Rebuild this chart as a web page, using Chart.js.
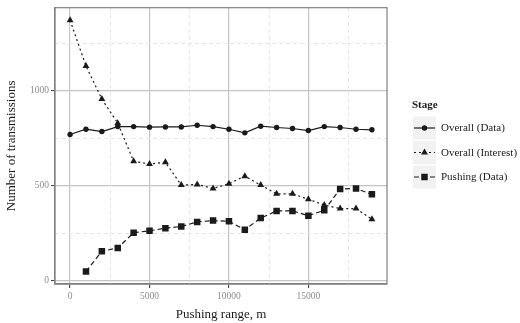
<!DOCTYPE html>
<html>
<head>
<meta charset="utf-8">
<script src="https://cdn.jsdelivr.net/npm/chart.js@4/dist/chart.umd.min.js"></script>
<style>
html,body{margin:0;padding:0;background:#fff;}
#wrap{position:relative;width:520px;height:323px;}
</style>
</head>
<body>
<div id="wrap"><canvas id="c" width="520" height="323"></canvas></div>
<script>
const xValues = [0,1000,2000,3000,4000,5000,6000,7000,8000,9000,10000,11000,12000,13000,14000,15000,16000,17000,18000,19000];
const overallData = [768,796,784,810,810,807,808,808,817,810,796,777,812,805,800,789,810,805,796,793];
const overallInterest = [1370,1129,955,828,627,613,622,502,505,484,509,549,502,456,456,427,397,378,378,322];
const pushingX = [1000,2000,3000,4000,5000,6000,7000,8000,9000,10000,11000,12000,13000,14000,15000,16000,17000,18000,19000];
const pushingData = [47,153,171,251,261,275,284,308,315,311,267,328,366,366,341,369,481,484,453];
const seriesNames = ['Overall (Data)','Overall (Interest)','Pushing (Data)'];
const xMajorTicks = [0,5000,10000,15000];
const yMajorTicks = [0,500,1000];
const xMinorTicks = [2500,7500,12500,17500];
const yMinorTicks = [250,750,1250];
const legendTitle = 'Stage';

const FONT = "'Liberation Serif','DejaVu Serif',serif";
const INK = '#1a1a1a';

const styles = [
  {dash: [], point: 'circle', radius: 2.7},
  {dash: [2,3], point: 'triangle', radius: 4},
  {dash: [5,3], point: 'rect', radius: 4.6}
];

function pts(xs, ys){ return xs.map((x,i)=>({x:x, y:ys[i]})); }

const minorGrid = {
  id: 'minorGrid',
  beforeDatasetsDraw(chart){
    const {ctx, chartArea:a, scales:{x, y}} = chart;
    ctx.save();
    ctx.strokeStyle = '#e6e6e6';
    ctx.lineWidth = 1;
    ctx.setLineDash([4,3]);
    xMinorTicks.forEach(v=>{
      const px = Math.round(x.getPixelForValue(v))+0.5;
      ctx.beginPath(); ctx.moveTo(px,a.top); ctx.lineTo(px,a.bottom); ctx.stroke();
    });
    yMinorTicks.forEach(v=>{
      const py = Math.round(y.getPixelForValue(v))+0.5;
      ctx.beginPath(); ctx.moveTo(a.left,py); ctx.lineTo(a.right,py); ctx.stroke();
    });
    ctx.restore();
  },
  afterDatasetsDraw(chart){
    const {ctx, chartArea:a} = chart;
    ctx.save();
    ctx.strokeStyle = '#808080';
    ctx.lineWidth = 1.2;
    ctx.strokeRect(a.left, a.top, a.right - a.left, a.bottom - a.top);
    ctx.restore();
  }
};

const customLegend = {
  id: 'customLegend',
  afterDraw(chart){
    const ctx = chart.ctx;
    ctx.save();
    ctx.fillStyle = INK;
    ctx.font = "bold 11px " + FONT;
    ctx.textBaseline = 'middle';
    ctx.textAlign = 'left';
    ctx.fillText(legendTitle, 412, 105);
    const rows = [128, 152.5, 177];
    seriesNames.forEach((name,i)=>{
      const cy = rows[i];
      ctx.fillStyle = '#f2f2f2';
      ctx.fillRect(413, cy-11.5, 23, 23);
      ctx.strokeStyle = INK;
      ctx.lineWidth = 1.2;
      ctx.setLineDash(styles[i].dash);
      ctx.beginPath(); ctx.moveTo(414, cy); ctx.lineTo(435, cy); ctx.stroke();
      ctx.setLineDash([]);
      ctx.fillStyle = INK;
      Chart.helpers.drawPoint(ctx, {pointStyle: styles[i].point, radius: styles[i].radius, borderWidth: 0}, 424.5, cy);
      ctx.fillStyle = INK;
      ctx.font = "11px " + FONT;
      ctx.fillText(name, 441, cy+0.5);
    });
    ctx.restore();
  }
};

const datasets = [
  {label: seriesNames[0], data: pts(xValues, overallData)},
  {label: seriesNames[1], data: pts(xValues, overallInterest)},
  {label: seriesNames[2], data: pts(pushingX, pushingData)}
].map((d,i)=>Object.assign(d, {
  borderColor: INK, backgroundColor: INK, borderWidth: 1.2,
  borderDash: styles[i].dash, pointStyle: styles[i].point,
  pointRadius: styles[i].radius, pointBorderWidth: 0,
  pointBackgroundColor: INK, tension: 0, fill: false
}));

new Chart(document.getElementById('c'), {
  type: 'line',
  data: {datasets},
  plugins: [minorGrid, customLegend],
  options: {
    responsive: false,
    animation: false,
    devicePixelRatio: 1,
    layout: {padding: {top: 6, right: 133, left: 0, bottom: 0}},
    plugins: {legend: {display: false}, tooltip: {enabled: false}},
    scales: {
      x: {
        type: 'linear', min: -950, max: 19950,
        afterBuildTicks(s){ s.ticks = xMajorTicks.map(v=>({value:v})); },
        afterFit(s){ s.height = 39; },
        grid: {color: '#c4c4c4', lineWidth: 1.2, tickLength: 4, tickColor: '#333', tickWidth: 1},
        border: {color: '#808080', width: 1.5},
        ticks: {color: '#8c8c8c', font: {family: FONT, size: 9.5}, padding: 3, maxRotation: 0,
          callback: v => String(v)},
        title: {display: true, text: 'Pushing range, m', color: INK,
          font: {family: FONT, size: 13}, padding: {top: 0, bottom: 1}}
      },
      y: {
        type: 'linear', min: -19, max: 1436,
        afterBuildTicks(s){ s.ticks = yMajorTicks.map(v=>({value:v})); },
        afterFit(s){ s.width = 55; },
        grid: {color: '#c4c4c4', lineWidth: 1.2, tickLength: 4, tickColor: '#333', tickWidth: 1},
        border: {color: '#808080', width: 1.2},
        ticks: {color: '#8c8c8c', font: {family: FONT, size: 9.5}, padding: 2,
          callback: v => String(v)},
        title: {display: true, text: 'Number of transmissions', color: INK,
          font: {family: FONT, size: 13}, padding: {top: 4, bottom: 0}}
      }
    }
  }
});
</script>
</body>
</html>
